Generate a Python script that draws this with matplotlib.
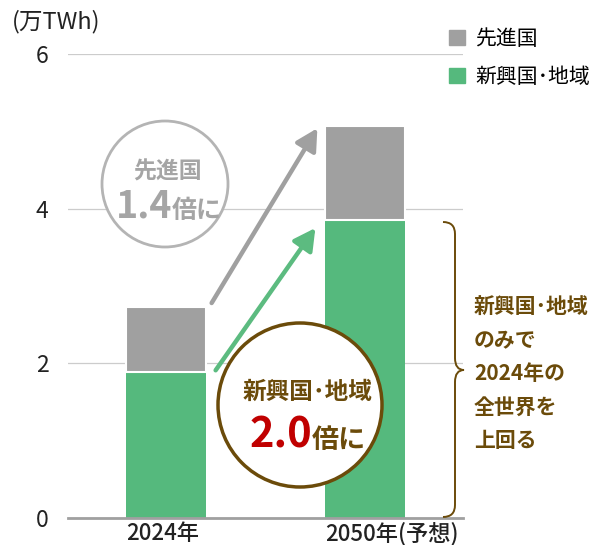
import matplotlib
matplotlib.use('Agg')
import matplotlib.pyplot as plt
from matplotlib.patches import Ellipse, FancyArrowPatch, PathPatch, Patch
from matplotlib.path import Path

plt.rcParams['font.family'] = ['Noto Sans CJK JP', 'DejaVu Sans']

# data (万TWh)
years = ['2024年', '2050年(予想)']
emerging = [1.89, 3.85]     # 新興国・地域
advanced = [0.84, 1.22]     # 先進国
series_names = ['先進国', '新興国･地域']
side_note = ['新興国･地域', 'のみで', '2024年の', '全世界を', '上回る']

GRAY = '#a0a0a0'
GREEN = '#55b97d'
BROWN = '#6b4b0a'
RED = '#c00000'

W, H = 591, 545
fig = plt.figure(figsize=(W / 100, H / 100), dpi=100)
ax = fig.add_axes([68 / W, 27 / H, 395 / W, 464 / H])

x = [0, 1]
bw = 0.4
totals = [e + a for e, a in zip(emerging, advanced)]
ax.bar(x, emerging, width=bw, color=GREEN, zorder=2)
ax.bar(x, advanced, bottom=emerging, width=bw, color=GRAY,
       edgecolor='white', linewidth=1.5, zorder=2)

ax.set_xlim(-0.49, 1.49)
ax.set_ylim(0, 6)
ax.set_yticks([0, 2, 4, 6])
ax.yaxis.grid(True, color='#cccccc', lw=0.9)
ax.set_axisbelow(True)
for s in ['top', 'left', 'right']:
    ax.spines[s].set_visible(False)
ax.spines['bottom'].set_color('#a0a0a0')
ax.spines['bottom'].set_linewidth(2)
ax.spines['bottom'].set_zorder(3)
ax.set_xticks([i - bw / 2 for i in x], years, ha='left')
ax.tick_params(axis='y', length=0, labelsize=16.5, pad=14, labelcolor='#222222')
ax.tick_params(axis='x', length=0, labelsize=16, pad=3, labelcolor='#222222')
for lab in ax.get_xticklabels():
    lab.set_fontweight('medium')

fig.text(12 / W, 1 - 22 / H, '(万TWh)', ha='left', va='center', fontsize=17, color='#222222')

# legend
handles = [Patch(color=GRAY, label=series_names[0]), Patch(color=GREEN, label=series_names[1])]
fig.legend(handles=handles, loc='upper left', bbox_to_anchor=(449 / W, 1 - 28 / H),
           frameon=False, fontsize=15, handlelength=0.75, handleheight=0.75,
           handletextpad=0.5, labelspacing=0.75, borderaxespad=0, borderpad=0)


def px(xp, yp):
    return ax.transData.inverted().transform((xp, H - yp))


# arrows between bar tops
arrow_kw = dict(arrowstyle='-|>,head_length=0.65,head_width=0.35', mutation_scale=20,
                lw=3.2, shrinkA=0, shrinkB=0, zorder=4)
ax.add_patch(FancyArrowPatch((bw / 2 + 0.03, totals[0] + 0.05), (1 - bw / 2 - 0.04, totals[1] - 0.03),
                             color=GRAY, **arrow_kw))
ax.add_patch(FancyArrowPatch((bw / 2 + 0.05, emerging[0] + 0.02), (1 - bw / 2 - 0.05, emerging[1] - 0.1),
                             color='#5cbb80', **arrow_kw))


def circle(cx, cy, r, ec, lw):
    c = px(cx, cy)
    w = px(cx + r, cy)[0] - px(cx - r, cy)[0]
    h = px(cx, cy - r)[1] - px(cx, cy + r)[1]
    ax.add_patch(Ellipse(c, w, h, facecolor='white', edgecolor=ec, lw=lw, zorder=5, clip_on=False))


# 先進国 circle
circle(165, 184, 63, '#b4b4b4', 2)
ax.text(*px(167, 172), '先進国', ha='center', va='center', fontsize=16.5, fontweight='bold',
        color='#a5a5a5', zorder=6)
ax.text(*px(172, 218), '1.4', ha='right', va='baseline', fontsize=27, fontweight='bold',
        color='#a5a5a5', zorder=6)
ax.text(*px(172, 218), '倍に', ha='left', va='baseline', fontsize=18, fontweight='bold',
        color='#a5a5a5', zorder=6)

# 新興国・地域 circle
circle(300, 405, 82, BROWN, 2.5)
ax.text(*px(308, 392), '新興国･地域', ha='center', va='center', fontsize=17, fontweight='bold',
        color=BROWN, zorder=6)
ax.text(*px(312, 448), '2.0', ha='right', va='baseline', fontsize=30, fontweight='bold',
        color=RED, zorder=6)
ax.text(*px(312, 448), '倍に', ha='left', va='baseline', fontsize=19.5, fontweight='bold',
        color=BROWN, zorder=6)

# brace next to 2050 emerging bar
top_y, bot_y = 222, 517
mid_y = (top_y + bot_y) / 2 + 0.5
xl, xv, xt, r = 443, 455, 464, 12
pts = [(xl, top_y), (xv, top_y), (xv, top_y + r), (xv, top_y + r + 2),
       (xv, mid_y - r), (xv, mid_y), (xt, mid_y),
       (xv, mid_y), (xv, mid_y + r),
       (xv, bot_y - r - 2), (xv, bot_y - r), (xv, bot_y), (xl, bot_y)]
codes = [Path.MOVETO, Path.CURVE3, Path.CURVE3, Path.LINETO,
         Path.LINETO, Path.CURVE3, Path.CURVE3,
         Path.CURVE3, Path.CURVE3,
         Path.LINETO, Path.LINETO, Path.CURVE3, Path.CURVE3]
verts = [tuple(px(a, b)) for a, b in pts]
ax.add_patch(PathPatch(Path(verts, codes), facecolor='none', edgecolor=BROWN, lw=1.4,
                       clip_on=False, zorder=5))

for i, line in enumerate(side_note):
    ax.text(*px(474, 307 + i * 33.3), line, ha='left', va='center', fontsize=15,
            fontweight='bold', color=BROWN, clip_on=False)

fig.savefig('out.png', dpi=100)
